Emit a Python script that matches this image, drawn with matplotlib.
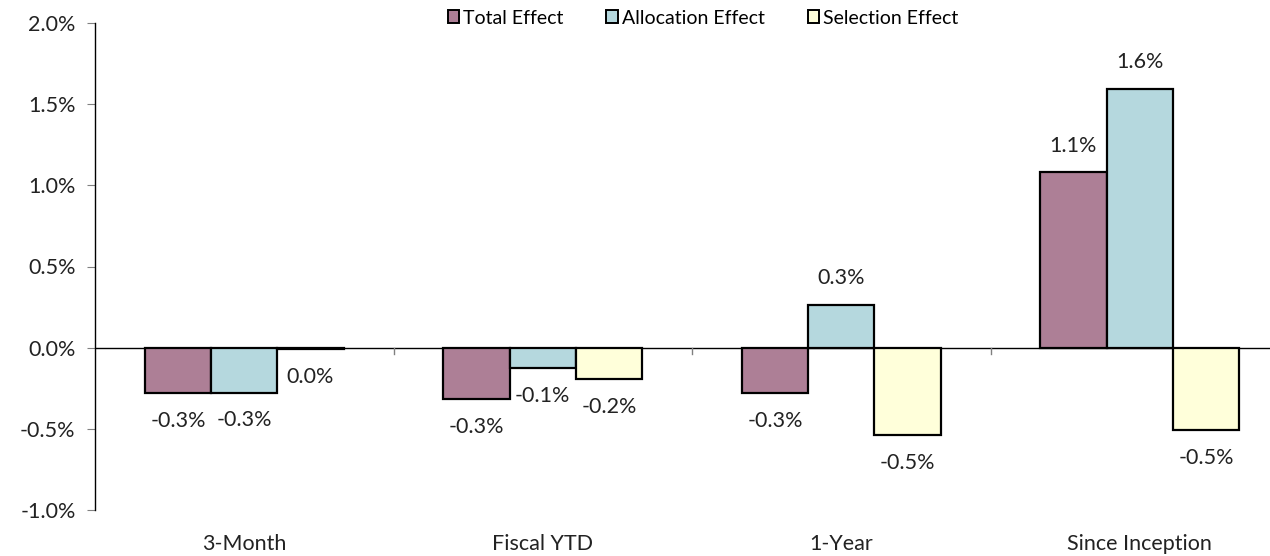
import numpy as np
import matplotlib.pyplot as plt
from matplotlib.patches import Patch

plt.rcParams["font.family"] = ["Lato", "DejaVu Sans"]

# values in percent
categories = ["3-Month", "Fiscal YTD", "1-Year", "Since Inception"]
total_effect = [-0.28, -0.316, -0.278, 1.08]
allocation_effect = [-0.277, -0.125, 0.265, 1.595]
selection_effect = [-0.008, -0.193, -0.54, -0.51]

series = [
    ("Total Effect", total_effect, "#AD7F96"),
    ("Allocation Effect", allocation_effect, "#B5D8DE"),
    ("Selection Effect", selection_effect, "#FFFFDA"),
]

fig = plt.figure(figsize=(12.7, 5.56), dpi=100)
ax = fig.add_axes([95 / 1270, 46 / 556, 1194 / 1270, 487 / 556])

x = np.arange(len(categories))
w = 0.222
for i, (name, vals, color) in enumerate(series):
    bars = ax.bar(x + (i - 1) * w, vals, w, color=color, edgecolor="black",
                  linewidth=1.6, label=name, zorder=3)
    for b, v in zip(bars, vals):
        off = 19 if v > 0 else -20
        ax.annotate(f"{v:.1f}%".replace("-0.0%", "0.0%"),
                    (b.get_x() + b.get_width() / 2, v),
                    xytext=(0, off), textcoords="offset points",
                    ha="center", va="center", fontsize=15.5, color="#222222")

ax.axhline(0, color="black", lw=1, zorder=2)
# category separators on the zero line
for bnd in x[:-1] + 0.5:
    ax.plot([bnd, bnd], [0, -0.04], color="#808080", lw=1, zorder=2)

ax.set_xlim(-0.5, 3.5)
ax.set_ylim(-1.0, 2.0)
ax.set_yticks(np.arange(-1.0, 2.01, 0.5))
ax.set_yticklabels([f"{v:.1f}%" for v in np.arange(-1.0, 2.01, 0.5)])
ax.tick_params(axis="y", length=6, color="#808080", labelsize=15.5, pad=8,
               labelcolor="#222222")
ax.set_xticks(x)
ax.set_xticklabels(categories)
ax.tick_params(axis="x", length=0, labelsize=15.5, pad=17, labelcolor="#222222")

for s in ["top", "right", "bottom"]:
    ax.spines[s].set_visible(False)
ax.spines["left"].set_linewidth(1)

handles = [Patch(facecolor=c, edgecolor="black", linewidth=1.4) for _, _, c in series]
fig.legend(handles, [n for n, _, _ in series], loc="center",
           bbox_to_anchor=(703 / 1270, 1 - 18 / 556), ncol=3, frameon=False,
           fontsize=14, handlelength=0.6, handleheight=0.6,
           handletextpad=0.2, columnspacing=2.2)

fig.savefig("out.png", dpi=100)
